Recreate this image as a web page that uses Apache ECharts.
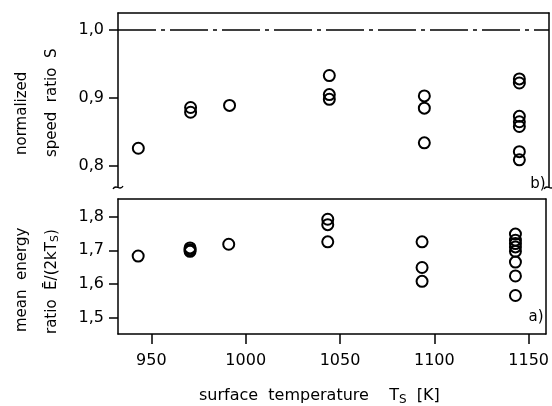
<!DOCTYPE html>
<html>
<head>
<meta charset="utf-8">
<script src="https://cdn.jsdelivr.net/npm/echarts@6/dist/echarts.min.js"></script>
<style>html,body{margin:0;padding:0;background:#fff}#c{width:552px;height:406px}</style>
</head>
<body>
<div id="c"></div>
<script>
// Data
var xTicks = [950, 1000, 1050, 1100, 1150];
var sTicks = [0.8, 0.9, 1.0];
var eTicks = [1.5, 1.6, 1.7, 1.8];
var sReference = 1.0;

var speedTemp = [943, 970.5, 970.5, 991, 1043.5, 1043.5, 1043.5, 1093.5, 1093.5, 1093.5, 1143.5, 1143.5, 1143.5, 1143.5, 1143.5, 1143.5, 1143.5];
var speedRatio = [0.826, 0.886, 0.879, 0.889, 0.933, 0.905, 0.898, 0.903, 0.885, 0.834, 0.928, 0.922, 0.873, 0.865, 0.858, 0.821, 0.809];

var energyTemp = [943, 970.5, 970.5, 970.5, 991, 1043.5, 1043.5, 1043.5, 1093.5, 1093.5, 1093.5, 1143, 1143, 1143, 1143, 1143, 1143, 1143, 1143];
var energyRatio = [1.683, 1.707, 1.702, 1.697, 1.718, 1.792, 1.776, 1.725, 1.725, 1.649, 1.608, 1.748, 1.730, 1.720, 1.710, 1.697, 1.665, 1.624, 1.566];

function pairs(xs, ys) { return xs.map(function (x, i) { return [x, ys[i]]; }); }
function comma(v) { return Number(v).toFixed(1).replace('.', ','); }
function plain(v) { return String(Math.round(v)); }

var FONT = 'DejaVu Sans';
var lineStyle = { color: '#000', width: 1.5 };
var xMin = 932.3, xMax = 1159.1;
var markerStyle = { color: 'rgba(0,0,0,0)', borderColor: '#000', borderWidth: 2, opacity: 1 };

var chart = echarts.init(document.getElementById('c'), null, { renderer: 'canvas' });
chart.setOption({
  animation: false,
  backgroundColor: '#fff',
  grid: [
    { left: 118, top: 13, width: 431, height: 174 },
    { left: 118, top: 199, width: 431, height: 135 }
  ],
  xAxis: [
    { gridIndex: 0, type: 'value', position: 'top', min: xMin, max: xMax,
      axisLine: { show: true, lineStyle: lineStyle }, axisTick: { show: false },
      axisLabel: { show: false }, splitLine: { show: false } },
    { gridIndex: 1, type: 'value', position: 'bottom', min: xMin, max: xMax,
      axisLine: { show: true, onZero: false, lineStyle: lineStyle },
      axisTick: { show: true, length: 10, customValues: xTicks, lineStyle: lineStyle },
      axisLabel: { show: true, customValues: xTicks, margin: 19, formatter: plain, fontFamily: FONT, fontSize: 16, color: '#000' },
      splitLine: { show: false } },
    { gridIndex: 1, type: 'value', position: 'top', min: xMin, max: xMax,
      axisLine: { show: true, onZero: false, lineStyle: lineStyle }, axisTick: { show: false },
      axisLabel: { show: false }, splitLine: { show: false } }
  ],
  yAxis: [
    { gridIndex: 0, type: 'value', position: 'left', min: 0.769, max: 1.025,
      axisLine: { show: true, onZero: false, lineStyle: lineStyle },
      axisTick: { show: true, length: 9, customValues: sTicks, lineStyle: lineStyle },
      axisLabel: { show: true, customValues: sTicks, margin: 14, formatter: comma, fontFamily: FONT, fontSize: 16, color: '#000' },
      splitLine: { show: false } },
    { gridIndex: 0, type: 'value', position: 'right', min: 0.769, max: 1.025,
      axisLine: { show: true, onZero: false, lineStyle: lineStyle }, axisTick: { show: false },
      axisLabel: { show: false }, splitLine: { show: false } },
    { gridIndex: 1, type: 'value', position: 'left', min: 1.452, max: 1.852,
      axisLine: { show: true, onZero: false, lineStyle: lineStyle },
      axisTick: { show: true, length: 9, customValues: eTicks, lineStyle: lineStyle },
      axisLabel: { show: true, customValues: eTicks, margin: 14, formatter: comma, fontFamily: FONT, fontSize: 16, color: '#000' },
      splitLine: { show: false } },
    { gridIndex: 1, type: 'value', position: 'right', min: 1.452, max: 1.852,
      axisLine: { show: true, onZero: false, lineStyle: lineStyle }, axisTick: { show: false },
      axisLabel: { show: false }, splitLine: { show: false } }
  ],
  series: [
    { type: 'scatter', xAxisIndex: 0, yAxisIndex: 0, data: pairs(speedTemp, speedRatio),
      symbol: 'circle', symbolSize: 11, itemStyle: markerStyle,
      markLine: { silent: true, symbol: ['none', 'none'], label: { show: false },
        lineStyle: { color: '#000', width: 1.5, type: [38, 5, 4, 5] },
        data: [{ yAxis: sReference }] } },
    { type: 'scatter', xAxisIndex: 1, yAxisIndex: 2, data: pairs(energyTemp, energyRatio),
      symbol: 'circle', symbolSize: 11, itemStyle: markerStyle }
  ],
  graphic: [
    { type: 'text', x: 22, y: 155, rotation: Math.PI / 2,
      style: { text: 'normalized', fontFamily: FONT, fontSize: 15, fill: '#000', textAlign: 'left', textVerticalAlign: 'middle' } },
    { type: 'text', x: 52, y: 157, rotation: Math.PI / 2,
      style: { text: 'speed  ratio  S', fontFamily: FONT, fontSize: 15, fill: '#000', textAlign: 'left', textVerticalAlign: 'middle' } },
    { type: 'text', x: 22, y: 332, rotation: Math.PI / 2,
      style: { text: 'mean  energy', fontFamily: FONT, fontSize: 15, fill: '#000', textAlign: 'left', textVerticalAlign: 'middle' } },
    { type: 'text', x: 52, y: 334, rotation: Math.PI / 2,
      style: { text: '{n|ratio  Ē/(2kT}{s|S}{n|)}', fill: '#000', textAlign: 'left', textVerticalAlign: 'middle',
        rich: { n: { fontFamily: FONT, fontSize: 15 }, s: { fontFamily: FONT, fontSize: 11, padding: [6, 0, 0, 0] } } } },
    { type: 'text', x: 199, y: 396,
      style: { text: '{n|surface  temperature    T}{s|S}{n|  [K]}', fill: '#000', textAlign: 'left', textVerticalAlign: 'middle',
        rich: { n: { fontFamily: FONT, fontSize: 16 }, s: { fontFamily: FONT, fontSize: 12, padding: [7, 0, 0, 0] } } } },
    { type: 'text', x: 538, y: 184,
      style: { text: 'b)', fontFamily: FONT, fontSize: 15, fill: '#000', textAlign: 'center', textVerticalAlign: 'middle' } },
    { type: 'text', x: 536, y: 317,
      style: { text: 'a)', fontFamily: FONT, fontSize: 15, fill: '#000', textAlign: 'center', textVerticalAlign: 'middle' } },
    { type: 'bezierCurve', shape: { x1: 113, y1: 189, cpx1: 116, cpy1: 183, cpx2: 120, cpy2: 192, x2: 123, y2: 186 },
      style: { stroke: '#000', lineWidth: 1.3, fill: null } },
    { type: 'bezierCurve', shape: { x1: 544, y1: 189, cpx1: 547, cpy1: 183, cpx2: 551, cpy2: 192, x2: 554, y2: 186 },
      style: { stroke: '#000', lineWidth: 1.3, fill: null } }
  ]
});
</script>
</body>
</html>
